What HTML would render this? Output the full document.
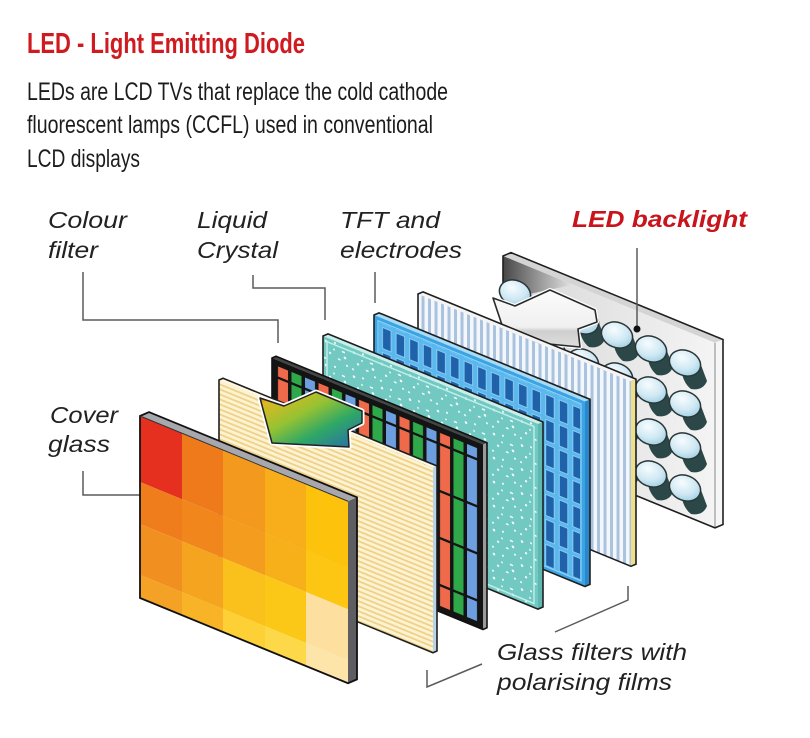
<!DOCTYPE html>
<html><head><meta charset="utf-8"><style>
html,body{margin:0;padding:0;background:#fff;}
svg{display:block;}
</style></head><body>
<svg width="810" height="738" viewBox="0 0 810 738" xmlns="http://www.w3.org/2000/svg">
<defs>
  <pattern id="cream" patternUnits="userSpaceOnUse" width="10" height="5">
    <rect width="10" height="5" fill="#fdf3d2"/>
    <rect y="3" width="10" height="2" fill="#efd28a"/>
  </pattern>
  <pattern id="cf" patternUnits="userSpaceOnUse" x="4" y="16" width="40.5" height="47">
    <rect width="40.5" height="47" fill="#141414"/>
    <rect x="2" y="2.5" width="10" height="44.5" fill="#ef6a4a"/>
    <rect x="15.5" y="2.5" width="10" height="44.5" fill="#2fa84a"/>
    <rect x="29" y="2.5" width="10" height="44.5" fill="#6c9ee0"/>
  </pattern>
  <pattern id="dots" patternUnits="userSpaceOnUse" width="28" height="24">
    <rect width="28" height="24" fill="#72c9c2"/>
    <circle cx="3" cy="4" r="1.2" fill="#fff"/>
    <circle cx="12" cy="2" r="1" fill="#fff"/>
    <rect x="19" y="7" width="3" height="1.5" fill="#fff"/>
    <circle cx="7" cy="14" r="1.1" fill="#fff"/>
    <rect x="15" y="16" width="2.5" height="1.5" fill="#fff"/>
    <circle cx="24" cy="20" r="1" fill="#fff"/>
    <circle cx="2" cy="21" r="1" fill="#fff"/>
    <circle cx="22" cy="13" r="1.2" fill="#fff"/>
    <circle cx="11" cy="9" r="0.9" fill="#fff"/>
  </pattern>
  <pattern id="tft" patternUnits="userSpaceOnUse" x="6" y="7" width="13.6" height="25">
    <rect width="13.6" height="25" fill="#5ab8ee"/>
    <rect x="2.5" y="2" width="8.5" height="21" fill="#1f62aa" stroke="#9ad6f6" stroke-width="0.8"/>
  </pattern>
  <pattern id="vstripe" patternUnits="userSpaceOnUse" width="6.5" height="10">
    <rect width="6.5" height="10" fill="#f3f7fb"/>
    <rect x="3.5" width="3" height="10" fill="#a9c2de"/>
  </pattern>
  <linearGradient id="blG" x1="0" y1="0" x2="1" y2="0">
    <stop offset="0" stop-color="#d6d6d6"/>
    <stop offset="1" stop-color="#f4f4f4"/>
  </linearGradient>
  <linearGradient id="shadeG" x1="0" y1="0" x2="1" y2="0">
    <stop offset="0" stop-color="#474747"/>
    <stop offset="1" stop-color="#e4e4e4"/>
  </linearGradient>
  <radialGradient id="bulbG" cx="0.35" cy="0.35" r="0.75">
    <stop offset="0" stop-color="#f6fcff"/>
    <stop offset="0.6" stop-color="#cfe8f3"/>
    <stop offset="1" stop-color="#9ccde2"/>
  </radialGradient>
  <linearGradient id="arrG" x1="0" y1="0" x2="1" y2="1">
    <stop offset="0" stop-color="#e83020"/>
    <stop offset="0.12" stop-color="#e0b820"/>
    <stop offset="0.4" stop-color="#96c232"/>
    <stop offset="0.65" stop-color="#2fa866"/>
    <stop offset="1" stop-color="#2a66b0"/>
  </linearGradient>
  <linearGradient id="wArr" x1="0" y1="0" x2="0" y2="1">
    <stop offset="0" stop-color="#fbfbfb"/>
    <stop offset="0.65" stop-color="#f0f0f0"/>
    <stop offset="0.72" stop-color="#cfcfcf"/>
    <stop offset="1" stop-color="#dedede"/>
  </linearGradient>
  <g id="bulb">
    <path d="M-4,6 L16,2 L22,18 Q18,28 6,26 Q-2,20 -4,6Z" fill="#2c4747"/>
    <ellipse cx="0" cy="0" rx="16" ry="12.5" transform="rotate(22)" fill="url(#bulbG)" stroke="#2a3636" stroke-width="1.5"/>
  </g>
</defs>

<!-- Heading text -->
<text x="27" y="53" font-family="Liberation Sans, Arial, sans-serif" font-weight="bold" font-size="29" fill="#cf1a1f" textLength="278" lengthAdjust="spacingAndGlyphs">LED - Light Emitting Diode</text>
<g font-family="Liberation Sans, Arial, sans-serif" font-size="25" fill="#1c1c1c">
  <text x="27" y="100" textLength="421" lengthAdjust="spacingAndGlyphs">LEDs are LCD TVs that replace the cold cathode</text>
  <text x="27" y="133" textLength="406" lengthAdjust="spacingAndGlyphs">fluorescent lamps (CCFL) used in conventional</text>
  <text x="27" y="167" textLength="113" lengthAdjust="spacingAndGlyphs">LCD displays</text>
</g>

<!-- Labels -->
<g font-family="Liberation Sans, Arial, sans-serif" font-size="23" font-style="italic" fill="#222">
  <text x="48" y="228" textLength="79" lengthAdjust="spacingAndGlyphs">Colour</text>
  <text x="48" y="258" textLength="50" lengthAdjust="spacingAndGlyphs">filter</text>
  <text x="197" y="228" textLength="70" lengthAdjust="spacingAndGlyphs">Liquid</text>
  <text x="197" y="258" textLength="81" lengthAdjust="spacingAndGlyphs">Crystal</text>
  <text x="340" y="228" textLength="100" lengthAdjust="spacingAndGlyphs">TFT and</text>
  <text x="340" y="258" textLength="122" lengthAdjust="spacingAndGlyphs">electrodes</text>
  <text x="50" y="423" textLength="68" lengthAdjust="spacingAndGlyphs">Cover</text>
  <text x="48" y="452" textLength="62" lengthAdjust="spacingAndGlyphs">glass</text>
  <text x="497" y="660" textLength="190" lengthAdjust="spacingAndGlyphs">Glass filters with</text>
  <text x="497" y="690" textLength="175" lengthAdjust="spacingAndGlyphs">polarising films</text>
</g>
<text x="572" y="227" font-family="Liberation Sans, Arial, sans-serif" font-size="23" font-style="italic" font-weight="bold" fill="#c8141a" textLength="175" lengthAdjust="spacingAndGlyphs">LED backlight</text>

<!-- Leader lines -->
<g fill="none" stroke="#5a5a5a" stroke-width="1.5">
  <polyline points="83,272 83,320 278,320 278,343"/>
  <polyline points="253,275 253,288 325,288 325,320"/>
  <polyline points="375,272 375,303"/>
  <polyline points="83,471 83,495 140,495"/>
  <polyline points="628,586 628,600 555,632"/>
  <polyline points="427,670 427,687 482,664"/>
</g>

<!-- Panel 7: LED backlight -->
<g transform="translate(503,256) skewY(22.29)">
  <polygon points="0,0 8,-6.7 220,-6.7 212,0" fill="#d4d4d4"/>
  <polygon points="212,0 220,-6.7 220,178.3 212,185" fill="#f6f6f6"/>
  <rect width="212" height="185" fill="url(#blG)"/>
  <polygon points="0,0 70,0 25,28 0,46" fill="url(#shadeG)"/>
  <line x1="212" y1="0" x2="212" y2="185" stroke="#888" stroke-width="1" vector-effect="non-scaling-stroke"/>
  <polygon points="0,0 8,-6.7 220,-6.7 220,178.3 212,185 0,185" fill="none" stroke="#1f1f1f" stroke-width="1.6" vector-effect="non-scaling-stroke"/>
</g>
<!-- bulbs -->
<use href="#bulb" x="515" y="293"/><use href="#bulb" x="549" y="307"/><use href="#bulb" x="583" y="321"/><use href="#bulb" x="617" y="335"/><use href="#bulb" x="651" y="349"/><use href="#bulb" x="685" y="363"/>
<use href="#bulb" x="515" y="334"/><use href="#bulb" x="549" y="348"/><use href="#bulb" x="583" y="362"/><use href="#bulb" x="617" y="376"/><use href="#bulb" x="651" y="390"/><use href="#bulb" x="685" y="404"/>
<use href="#bulb" x="515" y="376"/><use href="#bulb" x="549" y="390"/><use href="#bulb" x="583" y="404"/><use href="#bulb" x="617" y="418"/><use href="#bulb" x="651" y="432"/><use href="#bulb" x="685" y="446"/>
<use href="#bulb" x="515" y="418"/><use href="#bulb" x="549" y="432"/><use href="#bulb" x="583" y="446"/><use href="#bulb" x="617" y="460"/><use href="#bulb" x="651" y="474"/><use href="#bulb" x="685" y="488"/>
<!-- white arrow -->
<polygon points="493,298 515,306 550,290 595,310 597,322 578,329 580,347 507,340" fill="url(#wArr)" stroke="#fff" stroke-width="4" stroke-linejoin="round"/>
<polygon points="493,298 515,306 550,290 595,310 597,322 578,329 580,347 507,340" fill="url(#wArr)" stroke="#2a2a2a" stroke-width="1.6" stroke-linejoin="round"/>

<!-- Panel 6: striped polariser -->
<g transform="translate(418,294) skewY(22.29)">
  <polygon points="0,0 5,-4.2 218,-4.2 213,0" fill="#f4f4f4"/>
  <polygon points="213,0 218,-4.2 218,180.8 213,185" fill="#eee08a"/>
  <rect width="213" height="185" fill="url(#vstripe)"/>
  <polygon points="0,0 5,-4.2 218,-4.2 218,180.8 213,185 0,185" fill="none" stroke="#1f1f1f" stroke-width="1.6" vector-effect="non-scaling-stroke"/>
</g>

<!-- Panel 5: TFT -->
<g transform="translate(374,315) skewY(22.29)">
  <polygon points="0,0 5,-4.2 216,-4.2 211,0" fill="#a8dcf6"/>
  <polygon points="211,0 216,-4.2 216,180.8 211,185" fill="#2b86cc"/>
  <rect width="211" height="185" fill="#3aa4e4"/>
  <rect x="5" y="5" width="201" height="175" fill="url(#tft)"/>
  <rect x="4" y="4" width="203" height="177" fill="none" stroke="#8fd2f6" stroke-width="1.2" vector-effect="non-scaling-stroke"/>
  <polygon points="0,0 5,-4.2 216,-4.2 216,180.8 211,185 0,185" fill="none" stroke="#1f1f1f" stroke-width="1.6" vector-effect="non-scaling-stroke"/>
</g>

<!-- Panel 4: Liquid crystal -->
<g transform="translate(323,336) skewY(22.29)">
  <polygon points="0,0 5,-4.2 220,-4.2 215,0" fill="#c8efea"/>
  <polygon points="215,0 220,-4.2 220,180.8 215,185" fill="#5cb8b0"/>
  <rect width="215" height="185" fill="url(#dots)"/>
  <rect x="4" y="4" width="207" height="177" fill="none" stroke="#bdeee8" stroke-width="1.5" vector-effect="non-scaling-stroke"/>
  <polygon points="0,0 5,-4.2 220,-4.2 220,180.8 215,185 0,185" fill="none" stroke="#1f1f1f" stroke-width="1.6" vector-effect="non-scaling-stroke"/>
</g>

<!-- Panel 3: Colour filter -->
<g transform="translate(272,358) skewY(22.29)">
  <polygon points="0,0 4,-3.4 215,-3.4 211,0" fill="#444"/>
  <polygon points="211,0 215,-3.4 215,181.6 211,185" fill="#9a9a9a"/>
  <rect width="211" height="185" fill="#141414"/>
  <rect x="5" y="6" width="201" height="173" fill="url(#cf)"/>
  <polygon points="0,0 4,-3.4 215,-3.4 215,181.6 211,185 0,185" fill="none" stroke="#111" stroke-width="1.6" vector-effect="non-scaling-stroke"/>
</g>

<!-- Panel 2: cream polariser -->
<g transform="translate(219,380) skewY(22.29)">
  <polygon points="0,0 4,-3.4 218,-3.4 214,0" fill="#fff8e0"/>
  <polygon points="214,0 218,-3.4 218,181.6 214,185" fill="#b9d4e6"/>
  <rect width="214" height="185" fill="url(#cream)"/>
  <polygon points="0,0 4,-3.4 218,-3.4 218,181.6 214,185 0,185" fill="none" stroke="#1f1f1f" stroke-width="1.6" vector-effect="non-scaling-stroke"/>
</g>
<!-- gradient arrow -->
<polygon points="260,398 284,406 316,392 362,411 362,423 348,430 349,447 272,443" fill="#fff" stroke="#fff" stroke-width="5" stroke-linejoin="round"/>
<polygon points="260,398 284,406 316,392 362,411 362,423 348,430 349,447 272,443" fill="url(#arrG)" stroke="#222" stroke-width="1.5" stroke-linejoin="round"/>

<!-- Panel 1: Cover glass -->
<g transform="translate(140,416) skewY(22.29)">
  <polygon points="0,0 9,-7.6 217,-7.6 208,0" fill="#a7a7ae"/>
  <polygon points="208,0 217,-7.6 217,174.4 208,182" fill="#5d5d62"/>
  <!-- row 0 -->
  <rect x="0" y="0" width="42" height="66" fill="#e5301f"/>
  <rect x="42" y="0" width="41" height="66" fill="#ef7a1c"/>
  <rect x="83" y="0" width="42" height="66" fill="#f39a1e"/>
  <rect x="125" y="0" width="41" height="66" fill="#f8ae1a"/>
  <rect x="166" y="0" width="42" height="66" fill="#fcc20c"/>
  <!-- row 1 -->
  <rect x="0" y="66" width="42" height="42" fill="#ef7d1c"/>
  <rect x="42" y="66" width="41" height="42" fill="#f0861c"/>
  <rect x="83" y="66" width="42" height="42" fill="#f39c1e"/>
  <rect x="125" y="66" width="41" height="42" fill="#f8b01a"/>
  <rect x="166" y="66" width="42" height="42" fill="#fcc612"/>
  <!-- row 2 -->
  <rect x="0" y="108" width="42" height="51" fill="#f19020"/>
  <rect x="42" y="108" width="41" height="51" fill="#f5a41f"/>
  <rect x="83" y="108" width="42" height="51" fill="#fac01c"/>
  <rect x="125" y="108" width="41" height="51" fill="#fcc818"/>
  <rect x="166" y="108" width="42" height="51" fill="#fde0a0"/>
  <!-- row 3 -->
  <rect x="0" y="159" width="42" height="23" fill="#f4a226"/>
  <rect x="42" y="159" width="41" height="23" fill="#f8b426"/>
  <rect x="83" y="159" width="42" height="23" fill="#fdd036"/>
  <rect x="125" y="159" width="41" height="23" fill="#fdd848"/>
  <rect x="166" y="159" width="42" height="23" fill="#fde4a8"/>
  <polygon points="0,0 9,-7.6 217,-7.6 217,174.4 208,182 0,182" fill="none" stroke="#111" stroke-width="1.8" vector-effect="non-scaling-stroke"/>
  <line x1="0" y1="0" x2="208" y2="0" stroke="#333" stroke-width="1" vector-effect="non-scaling-stroke"/>
</g>

<!-- LED backlight leader -->
<line x1="637" y1="248" x2="637" y2="328" stroke="#5a5a5a" stroke-width="1.5"/>
<circle cx="637" cy="329" r="3.5" fill="#111"/>
</svg>
</body></html>
